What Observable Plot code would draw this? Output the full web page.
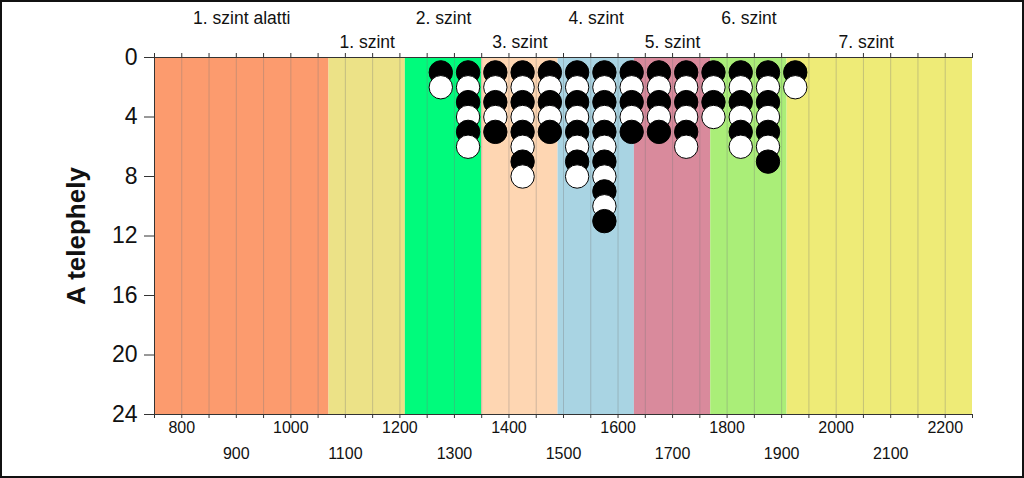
<!DOCTYPE html>
<html>
<head>
<meta charset="utf-8">
<script src="https://cdn.jsdelivr.net/npm/d3@7"></script>
<script src="https://cdn.jsdelivr.net/npm/@observablehq/plot@0.6"></script>
<style>
  html, body { margin: 0; padding: 0; background: #fff; }
  #wrap { position: relative; width: 1024px; height: 478px; overflow: hidden; }
  #border { position: absolute; left: 0; top: 0; width: 1024px; height: 478px; box-sizing: border-box; border: 2px solid #111; pointer-events: none; }
</style>
</head>
<body>
<div id="wrap"><div id="border"></div></div>
<script>
// ---- data ----
const xDomain = [750, 2250];
const yDomain = [0, 24];
const levelNames = ["1. szint alatti", "1. szint", "2. szint", "3. szint", "4. szint", "5. szint", "6. szint", "7. szint"];
const levelStarts = [750, 1070, 1210, 1350, 1490, 1630, 1770, 1910];
const levelEnds = [1070, 1210, 1350, 1490, 1630, 1770, 1910, 2200];
const levelColors = ["#fc9b6e", "#ece287", "#00fb7c", "#fed6b2", "#a9d4e3", "#d98a9c", "#aaee78", "#eeeb77"];
const levelLabelRow = [1, 2, 1, 2, 1, 2, 1, 2];
const binCenters = [1275, 1325, 1375, 1425, 1475, 1525, 1575, 1625, 1675, 1725, 1775, 1825, 1875, 1925];
const binCounts = [2, 6, 5, 8, 5, 8, 11, 5, 5, 6, 4, 6, 7, 2];
const yTicks = [0, 4, 8, 12, 16, 20, 24];
const xLabelsRow1 = [800, 1000, 1200, 1400, 1600, 1800, 2000, 2200];
const xLabelsRow2 = [900, 1100, 1300, 1500, 1700, 1900, 2100];
const yLabel = "A telephely";

// ---- derived tables ----
const levels = levelNames.map((name, i) => ({
  name,
  start: levelStarts[i],
  end: levelEnds[i],
  fillEnd: i === levelNames.length - 1 ? xDomain[1] : levelEnds[i],
  color: levelColors[i],
  row: levelLabelRow[i]
}));
const dots = [];
binCenters.forEach((x, i) => {
  for (let k = 1; k <= binCounts[i]; k++) {
    dots.push({x, y: k, fill: k % 2 === 1 ? "black" : "white"});
  }
});
const minorTicks = d3.range(xDomain[0], xDomain[1] + 1, 50);
const gridTicks = minorTicks.filter(v => v > xDomain[0] && v < xDomain[1]);
const fmt = d => String(d);

const chart = Plot.plot({
  width: 1024,
  height: 478,
  marginLeft: 154,
  marginRight: 52,
  marginTop: 57,
  marginBottom: 64,
  style: {fontFamily: "'Liberation Sans', Arial, sans-serif", background: "transparent", color: "#111"},
  x: {domain: xDomain},
  y: {domain: yDomain, reverse: true},
  color: {type: "identity"},
  marks: [
    Plot.rect(levels, {x1: "start", x2: "fillEnd", y1: () => yDomain[0], y2: () => yDomain[1], fill: "color"}),
    Plot.ruleX(gridTicks, {stroke: "#777", strokeOpacity: 0.35, strokeWidth: 1}),
    Plot.ruleY(yDomain, {stroke: "#333"}),
    Plot.ruleX([xDomain[0]], {stroke: "#333"}),
    Plot.axisX({anchor: "top", ticks: minorTicks, tickSize: 5, tickFormat: () => "", label: null, stroke: "#333"}),
    Plot.axisX({anchor: "bottom", ticks: minorTicks, tickSize: 4, tickFormat: () => "", label: null, stroke: "#333"}),
    Plot.axisX({anchor: "bottom", ticks: xLabelsRow1, tickSize: 0, tickPadding: 7, fontSize: 16, tickFormat: fmt, label: null}),
    Plot.axisX({anchor: "bottom", ticks: xLabelsRow2, tickSize: 0, tickPadding: 33, fontSize: 16, tickFormat: fmt, label: null}),
    Plot.axisY({ticks: yTicks, tickSize: 10, tickPadding: 7, fontSize: 23, tickFormat: fmt, label: null, stroke: "#333"}),
    Plot.text([yLabel], {text: d => d, frameAnchor: "left", textAnchor: "middle", dx: -78, rotate: -90, fontSize: 26, fontWeight: "bold", fill: "#111"}),
    Plot.text(levels.filter(d => d.row === 1), {x: d => (d.start + d.end) / 2, text: "name", frameAnchor: "top", dy: -46, fontSize: 17.5, fill: "#111"}),
    Plot.text(levels.filter(d => d.row === 2), {x: d => (d.start + d.end) / 2, text: "name", frameAnchor: "top", dy: -21.5, fontSize: 17.5, fill: "#111"}),
    Plot.dot(dots, {x: "x", y: "y", r: 11.7, fill: "fill", stroke: "black", strokeWidth: 1})
  ]
});
document.getElementById("wrap").insertBefore(chart, document.getElementById("border"));
</script>
</body>
</html>
